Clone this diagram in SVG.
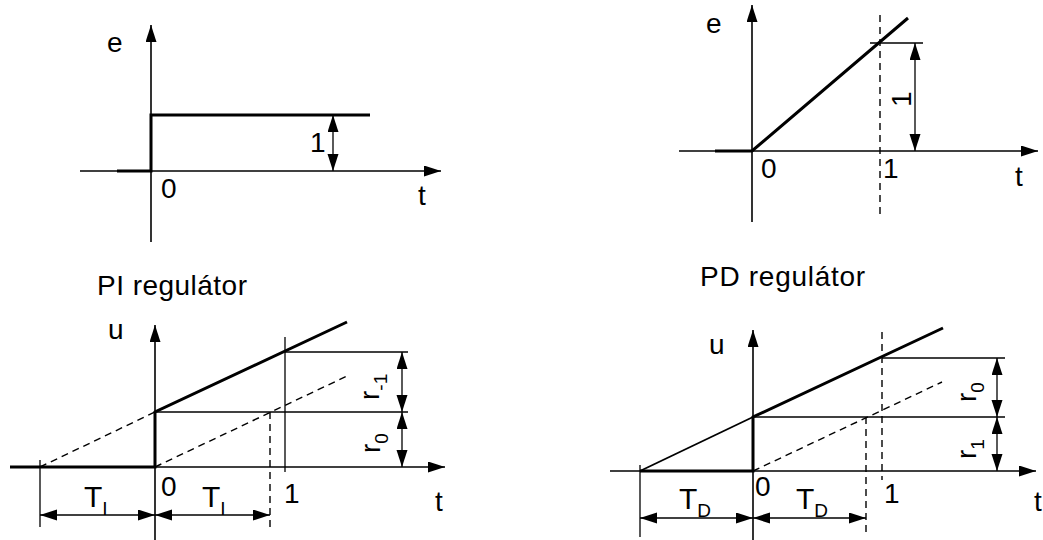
<svg xmlns="http://www.w3.org/2000/svg" width="1043" height="540" viewBox="0 0 1043 540">
<style>
text{font-family:"Liberation Sans",Arial,sans-serif;font-size:28px;fill:#000}
.big{font-size:30px}
.sub{font-size:19px}
.ax{stroke:#000;stroke-width:1.6;fill:none}
.thk{stroke:#000;stroke-width:3;fill:none}
.thn{stroke:#000;stroke-width:1.3;fill:none}
.med{stroke:#000;stroke-width:1.8;fill:none}
.dsh{stroke:#000;stroke-width:1.4;fill:none;stroke-dasharray:7 5}
.arr{marker-end:url(#ah)}
.dim{marker-start:url(#ah);marker-end:url(#ah)}
</style>
<defs>
<marker id="ah" markerUnits="userSpaceOnUse" markerWidth="18" markerHeight="12" refX="17" refY="5.5" orient="auto-start-reverse">
<path d="M0,0 L17,5.5 L0,11 z" fill="#000"/>
</marker>
</defs>
<rect width="1043" height="540" fill="#fff"/>

<g id="step-input">
<line class="ax arr" x1="151" y1="242" x2="151" y2="25"/>
<line class="ax arr" x1="80" y1="171" x2="441" y2="171"/>
<path class="thk" d="M117,171 H151 V115 H370"/>
<line class="thn dim" x1="333" y1="115" x2="333" y2="171"/>
<text x="107" y="52">e</text>
<text x="161" y="198">0</text>
<text x="418" y="205">t</text>
<text x="310" y="152">1</text>
</g>

<g id="ramp-input">
<line class="ax arr" x1="752" y1="222" x2="752" y2="5"/>
<line class="ax arr" x1="679" y1="151" x2="1038" y2="151"/>
<path class="thk" d="M715,151 H752 L908,18"/>
<line class="dsh" x1="880" y1="15" x2="880" y2="215"/>
<line class="thn" x1="870" y1="43" x2="923" y2="43"/>
<line class="thn dim" x1="915" y1="43" x2="915" y2="151"/>
<text x="706" y="33">e</text>
<text x="761" y="178">0</text>
<text x="883" y="178">1</text>
<text x="1015" y="186">t</text>
<text transform="translate(911,107) rotate(-90)">1</text>
</g>

<g id="pi-response">
<text x="97" y="295" textLength="150" lengthAdjust="spacing">PI regulátor</text>
<line class="ax arr" x1="155" y1="540" x2="155" y2="325"/>
<line class="ax arr" x1="10" y1="467" x2="445" y2="467"/>
<path class="thk" d="M10,467 H155 V412 L347,322"/>
<line class="thn" x1="155" y1="412" x2="408" y2="412"/>
<line class="thn" x1="285" y1="352" x2="408" y2="352"/>
<line class="thn" x1="285" y1="337" x2="285" y2="472"/>
<path class="dsh" d="M40,467 L155,412 M155,467 L347,376"/>
<line class="dsh" x1="270" y1="412" x2="270" y2="527"/>
<line class="thn" x1="40" y1="460" x2="40" y2="527"/>
<line class="thn dim" x1="40" y1="515" x2="155" y2="515"/>
<line class="thn dim" x1="155" y1="515" x2="270" y2="515"/>
<line class="thn dim" x1="402" y1="352" x2="402" y2="412"/>
<line class="thn dim" x1="402" y1="412" x2="402" y2="467"/>
<text x="108" y="339">u</text>
<text x="161" y="496">0</text>
<text x="284" y="503">1</text>
<text x="435" y="511">t</text>
<text class="big" x="84" y="507">T<tspan class="sub" dy="8">I</tspan></text>
<text class="big" x="202" y="507">T<tspan class="sub" dy="8">I</tspan></text>
<text transform="translate(379,400) rotate(-90)">r<tspan class="sub" dy="8">-1</tspan></text>
<text transform="translate(380,453) rotate(-90)">r<tspan class="sub" dy="8">0</tspan></text>
</g>

<g id="pd-response">
<text x="700" y="286" textLength="165" lengthAdjust="spacing">PD regulátor</text>
<line class="ax arr" x1="753" y1="540" x2="753" y2="330"/>
<line class="ax arr" x1="610" y1="471" x2="1036" y2="471"/>
<path class="thk" d="M640,471 H753 V417 L943,328"/>
<line class="med" x1="640" y1="471" x2="753" y2="417"/>
<line class="thn" x1="753" y1="417" x2="1005" y2="417"/>
<line class="thn" x1="882" y1="358" x2="1005" y2="358"/>
<line class="dsh" x1="882" y1="332" x2="882" y2="480"/>
<path class="dsh" d="M753,471 L942,382"/>
<line class="dsh" x1="866" y1="417" x2="866" y2="537"/>
<line class="thn" x1="640" y1="465" x2="640" y2="537"/>
<line class="thn dim" x1="640" y1="518" x2="753" y2="518"/>
<line class="thn dim" x1="753" y1="518" x2="866" y2="518"/>
<line class="thn dim" x1="997" y1="358" x2="997" y2="417"/>
<line class="thn dim" x1="997" y1="417" x2="997" y2="471"/>
<text x="709" y="354">u</text>
<text x="755" y="496">0</text>
<text x="884" y="503">1</text>
<text x="1034" y="511">t</text>
<text class="big" x="679" y="509">T<tspan class="sub" dy="8">D</tspan></text>
<text class="big" x="796" y="509">T<tspan class="sub" dy="8">D</tspan></text>
<text transform="translate(976,402) rotate(-90)">r<tspan class="sub" dy="8">0</tspan></text>
<text transform="translate(976,459) rotate(-90)">r<tspan class="sub" dy="8">1</tspan></text>
</g>
</svg>
